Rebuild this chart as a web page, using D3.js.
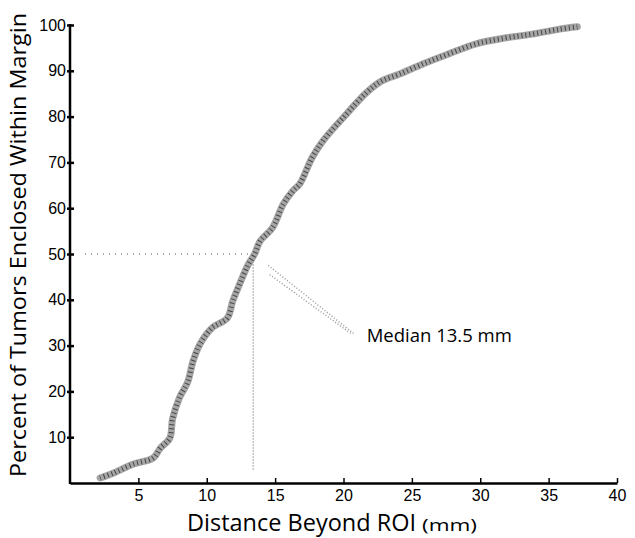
<html>
<head>
  <title>Margin Distance</title>
  <script src="https://d3js.org/d3.v7.min.js"></script>
  <style>
    body { margin: 0; background: #fff; }
  </style>
</head>
<body>
  <svg id="chart" width="635" height="538"></svg>
  <script>
    // curve: distance (mm) vs percent enclosed
    const distance = [2.2, 3.2, 4.6, 6.1, 6.6, 7.3, 7.5, 8.0, 8.6, 9.0, 9.5, 10.4, 11.5, 11.9, 12.4, 13.0,
      13.5, 13.9, 14.8, 15.6, 16.3, 16.8, 17.7, 18.5, 20.2, 21.7, 22.8, 24.1, 25.8, 27.7, 29.7, 31.9, 33.8, 35.8, 37.1];
    const percent = [1.1, 2.2, 4.1, 5.5, 7.6, 9.8, 14.0, 18.6, 22.0, 26.6, 30.3, 33.9, 36.0, 39.7, 43.4, 47.5,
      50.0, 52.8, 55.7, 60.9, 63.8, 65.3, 71.0, 74.7, 80.5, 85.3, 87.8, 89.3, 91.5, 93.7, 95.9, 97.2, 98.0, 99.1, 99.6];

    const xTicks = [5, 10, 15, 20, 25, 30, 35, 40];
    const yTicks = [10, 20, 30, 40, 50, 60, 70, 80, 90, 100];
    const median = 13.5;

    const svg = d3.select("#chart");
    const x = d3.scaleLinear().domain([0, 40]).range([70, 617]);
    const y = d3.scaleLinear().domain([0, 100]).range([483, 25]);

    // axes
    svg.append("g")
      .attr("transform", `translate(0, ${y(0)})`)
      .call(d3.axisBottom(x).tickValues(xTicks).tickSizeInner(-5).tickSizeOuter(0).tickPadding(7))
      .attr("font-family", "'Liberation Sans', Arial, sans-serif").attr("font-size", 16)
      .call(g => g.select(".domain").attr("stroke-width", 2.5))
      .call(g => g.selectAll(".tick line").attr("stroke-width", 1.5));

    svg.append("g")
      .attr("transform", `translate(${x(0)}, 0)`)
      .call(d3.axisLeft(y).tickValues(yTicks).tickSizeInner(3).tickSizeOuter(0).tickPadding(1))
      .attr("font-family", "'Liberation Sans', Arial, sans-serif").attr("font-size", 16)
      .call(g => g.select(".domain").attr("stroke-width", 2.5).attr("d", `M0,${y(0) + 1}V${y(100) - 1}`))
      .call(g => g.selectAll(".tick line").attr("x2", 4).attr("x1", -3).attr("stroke-width", 2.5));

    // median guide lines
    svg.append("line")
      .attr("x1", x(1.1)).attr("x2", x(median - 0.3))
      .attr("y1", y(50)).attr("y2", y(50))
      .attr("stroke", "#888").attr("stroke-width", 1.5).attr("stroke-dasharray", "1,5");

    svg.append("line")
      .attr("x1", x(median - 0.1)).attr("x2", x(median - 0.1))
      .attr("y1", y(49)).attr("y2", y(2.5))
      .attr("stroke", "#888").attr("stroke-width", 1.5).attr("stroke-dasharray", "1,2");

    // pointer to label
    svg.append("path")
      .attr("d", `M${x(14.5)},${y(47.5)}L${x(20.8)},${y(32.5)}M${x(14.6)},${y(45.5)}L${x(20.6)},${y(32.5)}`)
      .attr("stroke", "#999").attr("stroke-width", 1.5).attr("fill", "none").attr("stroke-dasharray", "1,2");

    svg.append("text")
      .attr("x", x(21.7)).attr("y", y(30.8))
      .attr("font-family", "'Open Sans', sans-serif").attr("font-size", 18.5)
      .text("Median 13.5 mm");

    // cumulative curve
    const pts = distance.map((d, i) => [d, percent[i]]);
    const line = d3.line().x(d => x(d[0])).y(d => y(d[1])).curve(d3.curveCatmullRom);

    svg.append("path")
      .datum(pts)
      .attr("d", line)
      .attr("fill", "none").attr("stroke", "#a5a5a5").attr("stroke-width", 7).attr("stroke-linecap", "round");

    svg.append("path")
      .datum(pts)
      .attr("d", line)
      .attr("fill", "none").attr("stroke", "#444").attr("stroke-width", 5).attr("stroke-dasharray", "1,3");

    // axis titles
    svg.append("text")
      .attr("x", 187).attr("y", 531)
      .attr("font-family", "'Open Sans', sans-serif").attr("font-size", 23)
      .attr("textLength", 229).attr("lengthAdjust", "spacingAndGlyphs")
      .text("Distance Beyond ROI");

    svg.append("text")
      .attr("x", 422).attr("y", 531)
      .attr("font-family", "'Open Sans', sans-serif").attr("font-size", 17)
      .attr("textLength", 55).attr("lengthAdjust", "spacingAndGlyphs")
      .text("(mm)");

    svg.append("text")
      .attr("transform", "translate(26, 245) rotate(-90)")
      .attr("text-anchor", "middle")
      .attr("font-family", "'Open Sans', sans-serif").attr("font-size", 22)
      .attr("textLength", 464).attr("lengthAdjust", "spacingAndGlyphs")
      .text("Percent of Tumors Enclosed Within Margin");
  </script>
</body>
</html>
